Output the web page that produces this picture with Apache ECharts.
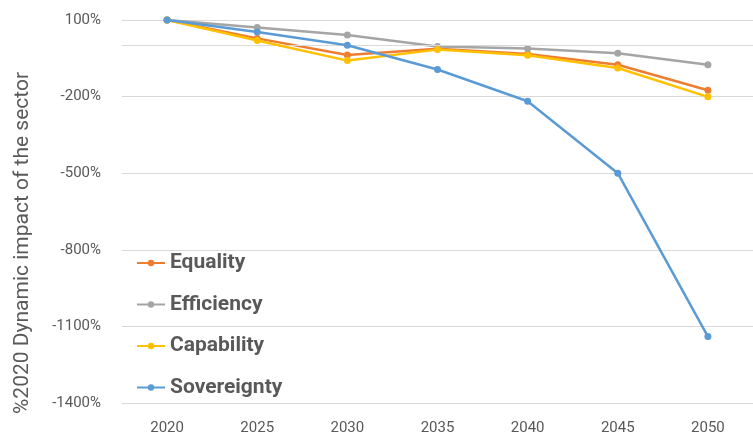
<!DOCTYPE html>
<html>
<head>
<meta charset="utf-8">
<script src="https://cdn.jsdelivr.net/npm/echarts@6/dist/echarts.min.js"></script>
<style>
  html, body { margin: 0; padding: 0; background: #fff; }
  #chart { width: 753px; height: 439px; }
</style>
</head>
<body>
<div id="chart"></div>
<script>
// Years on the category axis
const years = ['2020', '2025', '2030', '2035', '2040', '2045', '2050'];

// Dynamic impact of the sector, % of 2020, per scenario
const equality    = [100, 28, -37, -13, -33, -75, -175];
const efficiency  = [100, 71, 41, -4, -12, -30, -75];
const capability  = [100, 20, -59, -16, -38, -88, -201];
const sovereignty = [100, 53, 1, -94, -218, -500, -1140];

const seriesNames = ['Equality', 'Efficiency', 'Capability', 'Sovereignty'];
const seriesColors = ['#ED7D31', '#A5A5A5', '#FFC000', '#5B9BD5'];
const seriesData = [equality, efficiency, capability, sovereignty];

const yAxisTitle = '%2020 Dynamic impact of the sector';
const textColor = '#595959';
const fontFamily = 'Roboto, "Liberation Sans", sans-serif';

const chart = echarts.init(document.getElementById('chart'), null, { renderer: 'canvas' });

const series = seriesNames.map((name, i) => ({
  name: name,
  type: 'line',
  data: seriesData[i],
  color: seriesColors[i],
  symbol: 'circle',
  symbolSize: 7,
  lineStyle: { width: 2.5, color: seriesColors[i] },
  itemStyle: { color: seriesColors[i] },
  z: 3 + i,
  animation: false
}));

// horizontal axis line at 0%
series[0].markLine = {
  silent: true,
  symbol: ['none', 'none'],
  label: { show: false },
  lineStyle: { color: '#D9D9D9', width: 1, type: 'solid' },
  data: [{ yAxis: 0 }],
  animation: false
};

chart.setOption({
  backgroundColor: '#ffffff',
  animation: false,
  grid: { left: 122, right: 0, top: 20, bottom: 36 },
  legend: {
    orient: 'vertical',
    left: 136,
    top: 252.5,
    padding: 0,
    itemWidth: 28,
    itemHeight: 8,
    itemGap: 20.5,
    textStyle: { color: textColor, fontSize: 21, fontWeight: 'bold', fontFamily: fontFamily },
    data: seriesNames
  },
  xAxis: {
    type: 'category',
    data: years,
    boundaryGap: true,
    axisLine: { show: false },
    axisTick: { show: false },
    axisLabel: { color: textColor, fontSize: 15, fontFamily: fontFamily, margin: 18 }
  },
  yAxis: {
    type: 'value',
    min: -1400,
    max: 100,
    interval: 300,
    axisLine: { show: false },
    axisTick: { show: false },
    axisLabel: {
      color: textColor, fontSize: 15, fontFamily: fontFamily, margin: 21,
      formatter: v => v + '%'
    },
    splitLine: { lineStyle: { color: '#D9D9D9', width: 1 } }
  },
  graphic: [{
    type: 'text',
    rotation: Math.PI / 2,
    x: 23,
    y: 243,
    style: {
      text: yAxisTitle,
      fill: textColor,
      fontSize: 21,
      fontFamily: fontFamily,
      align: 'center',
      verticalAlign: 'middle'
    }
  }],
  series: series
});
</script>
</body>
</html>
